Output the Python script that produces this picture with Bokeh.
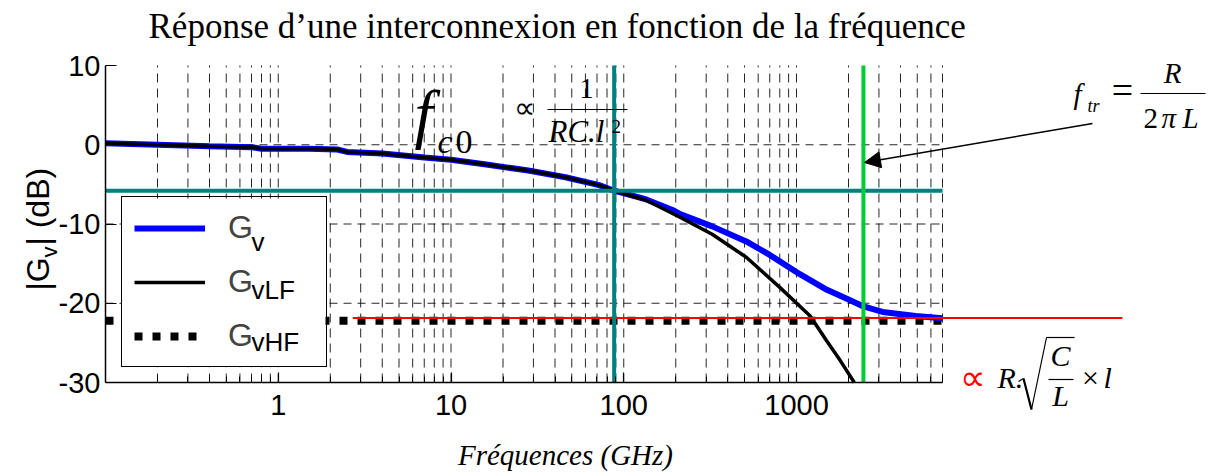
import numpy as np
from bokeh.plotting import figure
from bokeh.models import FixedTicker, Label, Arrow, NormalHead, Legend, LegendItem, BoxAnnotation
from bokeh.embed import file_html
from bokeh.resources import INLINE

# ---------------- data ----------------
freq_v = [0.1, 0.2, 0.4, 0.7, 0.8, 1.5, 2.2, 2.5, 4, 7, 10, 16, 28, 46, 72, 88,
          135, 190, 210, 325, 512, 700, 1040, 1500, 2030, 2440, 3150, 4900, 7000]
gain_v = [0.2, 0.0, -0.2, -0.3, -0.5, -0.5, -0.6, -0.9, -1.1, -1.6, -1.9, -2.5, -3.25, -4.1, -5.1, -5.8,
          -6.9, -8.2, -8.7, -10.3, -12.2, -13.9, -16.3, -18.3, -19.6, -20.4, -21.1, -21.6, -21.9]
freq_lf = [0.1, 0.2, 0.4, 0.7, 0.8, 1.5, 2.2, 2.5, 4, 7, 10, 16, 28, 46, 72, 88,
           135, 210, 325, 512, 800, 1200, 1490, 1800, 2160]
gain_lf = [0.2, 0.0, -0.2, -0.3, -0.5, -0.5, -0.6, -0.9, -1.1, -1.6, -1.9, -2.5, -3.25, -4.1, -5.1, -5.8,
           -7.0, -9.1, -11.3, -14.2, -18.0, -21.6, -24.7, -27.3, -30.0]
hf_freq = [0.1, 7000]
hf_gain = [-22.2, -22.2]
red_freq = [2.7, 77000]
red_gain = [-21.85, -21.85]
f_c0 = 88.0
f_tr = 2440.0
level_c0 = -5.8
x_start, x_stop = 0.1, 7000.0
y_start, y_stop = -30, 10
x_ticks = [1, 10, 100, 1000]
x_minor = [0.2, 0.3, 0.4, 0.5, 0.6, 0.7, 0.8, 0.9,
           2, 3, 4, 5, 6, 7, 8, 9,
           20, 30, 40, 50, 60, 70, 80, 90,
           200, 300, 400, 500, 600, 700, 800, 900,
           2000, 3000, 4000, 5000, 6000, 7000]
x_tick_labels = {1: "1", 10: "10", 100: "100", 1000: "1000"}
y_ticks = [10, 0, -10, -20, -30]
y_tick_labels = {10: "10", 0: "0", -10: "-10", -20: "-20", -30: "-30"}
y_grid = [0, -10, -20]
x_grid = x_ticks + x_minor

# ---------------- geometry (page pixels) ----------------
W, H = 1214, 475
AX_L, AX_R = 105, 942          # pixel of x_start / x_stop
AX_T, AX_B = 65, 382           # pixel of y_stop / y_start
dec = (AX_R - AX_L) / np.log10(x_stop / x_start)
x_lo = x_start * 10 ** (-AX_L / dec)
x_hi = x_start * 10 ** ((W - AX_L) / dec)
ppd = (AX_B - AX_T) / (y_stop - y_start)
y_hi = y_stop + AX_T / ppd
y_lo = y_start - (H - AX_B) / ppd
K = 0.35                        # label baseline correction (fraction of font size)


def sy(Y):
    return H - Y


p = figure(width=W, height=H, x_axis_type="log", x_range=(x_lo, x_hi), y_range=(y_lo, y_hi),
           output_backend="svg", toolbar_location=None,
           min_border_left=0, min_border_right=0, min_border_top=0, min_border_bottom=0)
p.title.visible = False
p.outline_line_color = None
p.background_fill_color = "white"
p.border_fill_color = "white"
p.xgrid.visible = False
p.ygrid.visible = False

# axes (fixed inside the canvas-sized frame)
xt = FixedTicker(ticks=x_ticks, minor_ticks=x_minor)
ax = p.xaxis[0]
ax.ticker = xt
ax.fixed_location = y_start
ax.bounds = (x_start, x_stop)
ax.major_label_overrides = x_tick_labels
ax.axis_line_width = 1.5
ax.major_tick_in, ax.major_tick_out = 10, 0
ax.minor_tick_in, ax.minor_tick_out = 6, 0
ax.major_tick_line_width = 1.2
ax.minor_tick_line_width = 1
ax.major_label_text_font = "Liberation Sans"
ax.major_label_text_font_size = "29px"
ax.major_label_text_color = "black"
ax.major_label_standoff = 12

ay = p.yaxis[0]
ay.ticker = FixedTicker(ticks=y_ticks, minor_ticks=[])
ay.fixed_location = x_start
ay.bounds = (y_start, y_stop)
ay.major_label_overrides = y_tick_labels
ay.axis_line_width = 1.5
ay.major_tick_in, ay.major_tick_out = 11, 0
ay.major_tick_line_width = 1.2
ay.minor_tick_in = ay.minor_tick_out = 0
ay.major_label_text_font = "Liberation Sans"
ay.major_label_text_font_size = "29px"
ay.major_label_text_color = "black"
ay.major_label_standoff = 5

# dashed grid, limited to the axes box
p.segment(x0=x_grid, x1=x_grid, y0=[y_start] * len(x_grid), y1=[y_stop] * len(x_grid),
          line_color="black", line_dash="9 6", line_width=1, line_alpha=0.85)
p.segment(x0=[x_start] * len(y_grid), x1=[x_stop] * len(y_grid), y0=y_grid, y1=y_grid,
          line_color="black", line_dash="8 6", line_width=1, line_alpha=0.85)

# curves
r_hf = p.line(hf_freq, hf_gain, line_color="black", line_width=8, line_dash="8 10", line_cap="butt")
r_v = p.line(freq_v, gain_v, line_color="#0000ff", line_width=6)
r_lf = p.line(freq_lf, gain_lf, line_color="black", line_width=3.5)
p.line(red_freq, red_gain, line_color="#ff0000", line_width=2)
p.line([x_start, x_stop], [level_c0, level_c0], line_color="#008080", line_width=4)
p.line([f_c0, f_c0], [y_start, y_stop], line_color="#008080", line_width=4)
p.line([f_tr, f_tr], [y_start, y_stop], line_color="#00cc33", line_width=4)

# legend: white box underneath a transparent, framed legend
p.add_layout(BoxAnnotation(left=121, right=325, bottom=sy(367), top=sy(198),
                           left_units="screen", right_units="screen",
                           bottom_units="screen", top_units="screen",
                           fill_color="white", fill_alpha=1.0, line_color=None))
leg = Legend(items=[LegendItem(label="G", renderers=[r_v]),
                    LegendItem(label="G", renderers=[r_lf]),
                    LegendItem(label="G", renderers=[r_hf])],
             location=(121, H - 367), orientation="vertical",
             glyph_width=71, glyph_height=22, label_width=86, label_height=22,
             label_standoff=23, padding=12, spacing=17, margin=0,
             label_text_font="Liberation Sans", label_text_font_size="32px",
             border_line_color="black", border_line_width=1.5, border_line_alpha=1.0,
             background_fill_alpha=0.0)
p.add_layout(leg)


def lab(text, X, Y, size, font="Liberation Serif", style="normal", align="left",
        color="black", angle=0):
    if angle == 0:
        x, y = X, sy(Y - K * size)
    else:
        x, y = X - K * size, sy(Y)
    p.add_layout(Label(x=x, y=y, x_units="screen", y_units="screen", text=text,
                       text_font=font, text_font_size=f"{size}px", text_font_style=style,
                       text_align=align, text_baseline="alphabetic", text_color=color,
                       angle=angle, angle_units="deg"))


def seg(X0, Y0, X1, Y1, width=1.2, color="black", head=None):
    p.add_layout(Arrow(x_start=X0, y_start=sy(Y0), x_end=X1, y_end=sy(Y1),
                       start_units="screen", end_units="screen", end=head,
                       line_color=color, line_width=width))


# title
lab("Réponse d’une interconnexion en fonction de la fréquence", 148, 38, 35)

# legend subscripts
lab("v", 251, 251, 26, font="Liberation Sans")
lab("vLF", 251, 299, 26, font="Liberation Sans")
lab("vHF", 251, 351, 26, font="Liberation Sans")

# y axis label  |G_v| (dB)
lab("|G", 49, 290, 32, font="Liberation Sans", angle=90)
lab("v", 57, 257, 22, font="Liberation Sans", angle=90)
lab("| (dB)", 49, 245, 32, font="Liberation Sans", angle=90)

# x axis label
lab("Fréquences (GHz)", 565, 465, 29, style="italic", align="center")

# f_c0 ∝ 1/(RC.l²)
lab("f", 414, 136, 66, style="italic")
lab("c", 437, 153, 34, style="italic")
lab("0", 455, 153, 34)
lab("∝", 524, 117, 30, align="center")
lab("1", 586, 98, 29, align="center")
seg(547, 109, 627, 109)
lab("RC.l", 548, 142, 31, style="italic")
lab("2", 611, 133, 19)

# f_tr = R / (2 pi L)
lab("f", 1073, 104, 29, style="italic")
lab("tr", 1087, 112, 18, style="italic")
lab("=", 1122, 103, 38, align="center")
seg(1140, 93, 1205, 93)
lab("R", 1172, 83, 29, style="italic", align="center")
lab("2", 1143, 128, 29)
lab("π", 1161, 128, 29, style="italic")
lab("L", 1182, 128, 29, style="italic")
seg(1092, 123, 864, 162, width=1.5,
    head=NormalHead(size=16, fill_color="black", line_color="black"))

# ∝ R.sqrt(C/L) x l
lab("∝", 972, 390, 36, align="center", color="#ff0000")
lab("R.", 997, 387, 30, style="italic")
seg(1018, 381, 1023, 378, width=1.2)
seg(1023, 378, 1031, 409, width=2.2)
seg(1031, 409, 1046, 337, width=1.2)
seg(1046, 337, 1074, 337, width=1.2)
lab("C", 1060, 365, 30, style="italic", align="center")
seg(1048, 379, 1073, 379)
lab("L", 1060, 405, 30, style="italic", align="center")
lab("×", 1090, 387, 30, align="center")
lab("l", 1103, 387, 30, style="italic")

open("out.html", "w").write(file_html(p, INLINE))
